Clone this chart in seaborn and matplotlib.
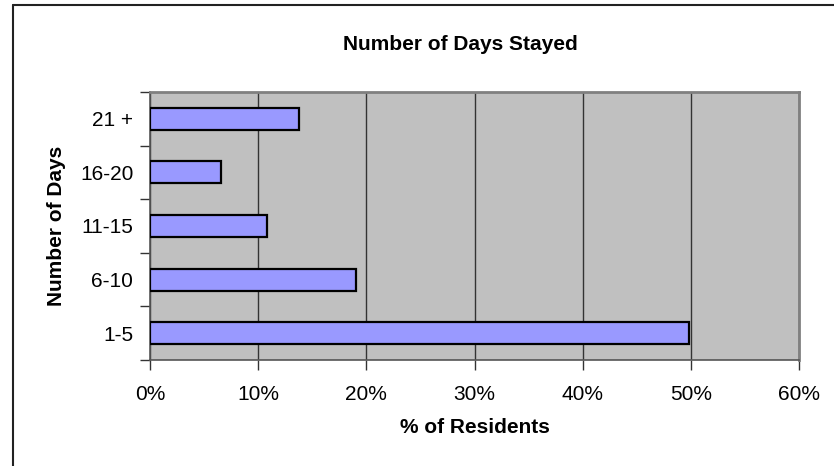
import matplotlib
matplotlib.use('Agg')
import matplotlib.pyplot as plt
import seaborn as sns
import pandas as pd
from matplotlib.lines import Line2D
from matplotlib.ticker import FuncFormatter, FixedLocator

# Datos
dias = ['21 +', '16-20', '11-15', '6-10', '1-5']
porcentaje = [13.8, 6.6, 10.8, 19.0, 49.8]

datos = pd.DataFrame({'Dias': dias, 'Pct': porcentaje})

sns.set_style('ticks')
plt.rcParams['font.family'] = ['Liberation Sans', 'DejaVu Sans']
plt.rcParams['text.color'] = 'black'
plt.rcParams['axes.labelcolor'] = 'black'
plt.rcParams['xtick.color'] = 'black'
plt.rcParams['ytick.color'] = 'black'

fig = plt.figure(figsize=(8.34, 4.66), dpi=100)
ax = fig.add_axes([150/834, 1 - 360/466, (799 - 150)/834, (360 - 92)/466])

sns.barplot(x='Pct', y='Dias', data=datos, order=dias, orient='h', color='#9999FF',
            edgecolor='black', linewidth=1.6, width=0.41, saturation=1, ax=ax, zorder=3)

ax.set_facecolor('#C0C0C0')
ax.set_xlim(0, 60)
ax.set_ylim(4.5, -0.5)
ax.set_xticks(range(0, 61, 10))
ax.xaxis.set_major_formatter(FuncFormatter(lambda v, p: f'{int(v)}%'))
ax.grid(axis='x', color='#333333', linewidth=1, zorder=1)
ax.grid(axis='y', visible=False)

# ticks de categoria en los limites
ax.yaxis.set_minor_locator(FixedLocator([-0.5, 0.5, 1.5, 2.5, 3.5, 4.5]))
ax.tick_params(axis='y', which='major', length=0, pad=12, labelsize=15, left=True)
ax.tick_params(axis='y', which='minor', length=7, width=1, color='#333333', left=True,
               direction='out')
ax.tick_params(axis='x', which='major', length=7, width=1, color='#333333',
               direction='out', pad=11, labelsize=15, bottom=True)

for lado in ['top', 'right']:
    ax.spines[lado].set_visible(True)
    ax.spines[lado].set_color('#808080')
    ax.spines[lado].set_linewidth(2)
for lado in ['left', 'bottom']:
    ax.spines[lado].set_color('#555555')
    ax.spines[lado].set_linewidth(1.2)

ax.set_xlabel('% of Residents', fontsize=15, fontweight='bold', labelpad=10)
ax.set_ylabel('Number of Days', fontsize=15, fontweight='bold', labelpad=10)
fig.text(460/834, 1 - 45/466, 'Number of Days Stayed', ha='center', va='center',
         fontsize=15, fontweight='bold')

# borde del area del grafico (izquierda y arriba)
fig.add_artist(Line2D([12.5/834, 12.5/834], [0, 1 - 5/466], color='#222222', linewidth=1.5))
fig.add_artist(Line2D([12.5/834, 1], [1 - 5/466, 1 - 5/466], color='#222222', linewidth=1.5))

plt.savefig('out.png', dpi=100)
